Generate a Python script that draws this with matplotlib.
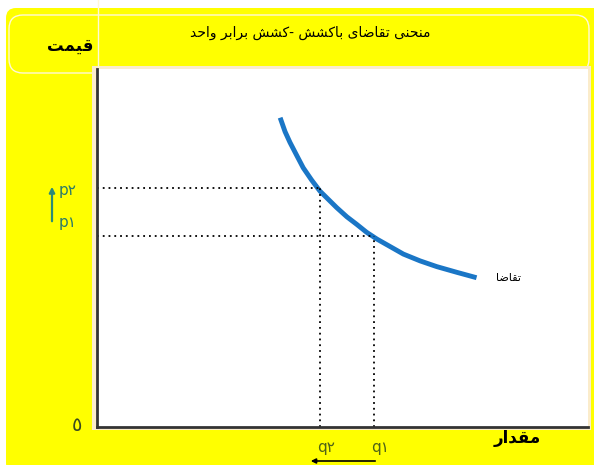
import numpy as np
import matplotlib.pyplot as plt
from matplotlib.patches import FancyBboxPatch, Rectangle

# demand curve (quantity, price on a 0..100 scale)
q_curve = [37.3, 38.3, 39.3, 40.7, 42.0, 43.7, 45.4, 47.1, 48.8, 50.9,
           52.9, 54.9, 57.0, 59.7, 62.4, 65.8, 69.2, 73.3, 77.3]
p_curve = [86.4, 82.5, 79.5, 75.8, 72.4, 69.0, 65.9, 63.6, 61.3, 58.7,
           56.6, 54.4, 52.5, 50.4, 48.3, 46.4, 44.8, 43.2, 41.7]

q_marks = [45.4, 56.4]          # q2, q1
p_marks = [66.8, 53.4]          # p2, p1
q_labels = ["q\u06F2", "q\u06F1"]
p_labels = ["p\u06F2", "p\u06F1"]

title = "منحنی تقاضای باکشش -کشش برابر واحد"
ylabel = "قیمت"
xlabel = "مقدار"
curve_label = "تقاضا"
origin_label = "\u0665"

# minimal arabic-script shaping: (isolated, final, initial, medial)
FORMS = {
    "ا": (0xFE8D, 0xFE8E, None, None),
    "ب": (0xFE8F, 0xFE90, 0xFE91, 0xFE92),
    "ت": (0xFE95, 0xFE96, 0xFE97, 0xFE98),
    "ح": (0xFEA1, 0xFEA2, 0xFEA3, 0xFEA4),
    "د": (0xFEA9, 0xFEAA, None, None),
    "ر": (0xFEAD, 0xFEAE, None, None),
    "ش": (0xFEB5, 0xFEB6, 0xFEB7, 0xFEB8),
    "ض": (0xFEBD, 0xFEBE, 0xFEBF, 0xFEC0),
    "ق": (0xFED5, 0xFED6, 0xFED7, 0xFED8),
    "م": (0xFEE1, 0xFEE2, 0xFEE3, 0xFEE4),
    "ن": (0xFEE5, 0xFEE6, 0xFEE7, 0xFEE8),
    "و": (0xFEED, 0xFEEE, None, None),
    "ک": (0xFB8E, 0xFB8F, 0xFB90, 0xFB91),
    "ی": (0xFBFC, 0xFBFD, 0xFBFE, 0xFBFF),
}


def shape(text):
    out = []
    for i, ch in enumerate(text):
        if ch not in FORMS:
            out.append(ch)
            continue
        prev = text[i - 1] if i > 0 else ""
        nxt = text[i + 1] if i + 1 < len(text) else ""
        join_prev = prev in FORMS and FORMS[prev][2] is not None
        join_next = FORMS[ch][2] is not None and nxt in FORMS
        iso, fin, ini, med = FORMS[ch]
        if join_prev and join_next:
            code = med
        elif join_prev:
            code = fin
        elif join_next:
            code = ini
        else:
            code = iso
        out.append(chr(code))
    return "".join(out)[::-1]


W, H = 594, 465
fig = plt.figure(figsize=(W / 100, H / 100), dpi=100)
fig.patch.set_facecolor("white")

bg = fig.add_axes([0, 0, 1, 1], zorder=0)
bg.set_xlim(0, W)
bg.set_ylim(H, 0)
bg.axis("off")
bg.add_patch(FancyBboxPatch((6, 8), W + 20, H, boxstyle="round,pad=0,rounding_size=10",
                            facecolor="#ffff00", edgecolor="none"))
bg.add_patch(FancyBboxPatch((9, 15), 580, 58, boxstyle="round,pad=0,rounding_size=14",
                            facecolor="none", edgecolor="#fff8d8", lw=1.0))
bg.plot([98, 98], [0, 70], color="#fff8d8", lw=1.0)
bg.add_patch(Rectangle((92, 66), 499, 364, facecolor="#fbeccb", edgecolor="none"))

bg.text(310, 33, shape(title), ha="center", va="center", fontsize=10)
bg.text(70, 46, shape(ylabel), ha="center", va="center", fontsize=12, fontweight="bold")
bg.text(517, 438, shape(xlabel), ha="center", va="center", fontsize=12, fontweight="bold")
bg.annotate("", xy=(52, 184), xytext=(52, 224),
            arrowprops=dict(arrowstyle="-|>", color="#2b8a78", lw=1.6, mutation_scale=8))
bg.annotate("", xy=(308, 461), xytext=(378, 461),
            arrowprops=dict(arrowstyle="-|>", color="black", lw=1.2, mutation_scale=7))
for y, lab in zip([190, 222], p_labels):
    bg.text(59, y, lab, ha="left", va="center", fontsize=11, color="#2b7a6a")
bg.text(77, 425, origin_label, ha="center", va="center", fontsize=14, color="#3a4a20")

ax = fig.add_axes([97 / W, 1 - 427 / H, 491 / W, 358 / H], zorder=1)
ax.set_facecolor("white")
ax.set_xlim(0, 100)
ax.set_ylim(0, 100)

ax.plot(q_curve, p_curve, color="#1a76c6", lw=3.5, solid_joinstyle="round",
        solid_capstyle="butt")
for q, p in zip(q_marks, p_marks):
    ax.plot([0, q], [p, p], color="black", lw=1.3, ls=(0, (1, 2.2)))
    ax.plot([q, q], [0, p], color="black", lw=1.3, ls=(0, (1, 2.2)))

ax.text(q_curve[-1] + 4, p_curve[-1], shape(curve_label), ha="left", va="center", fontsize=8)

ax.set_xticks([q + 1.2 for q in q_marks], q_labels, color="#4f6318", fontsize=11)
ax.set_yticks([])
ax.tick_params(axis="x", length=0, pad=9)

for s in ["top", "right"]:
    ax.spines[s].set_visible(False)
for s in ["left", "bottom"]:
    ax.spines[s].set_color("#333333")
    ax.spines[s].set_linewidth(2)

fig.savefig("out.png", dpi=100)
